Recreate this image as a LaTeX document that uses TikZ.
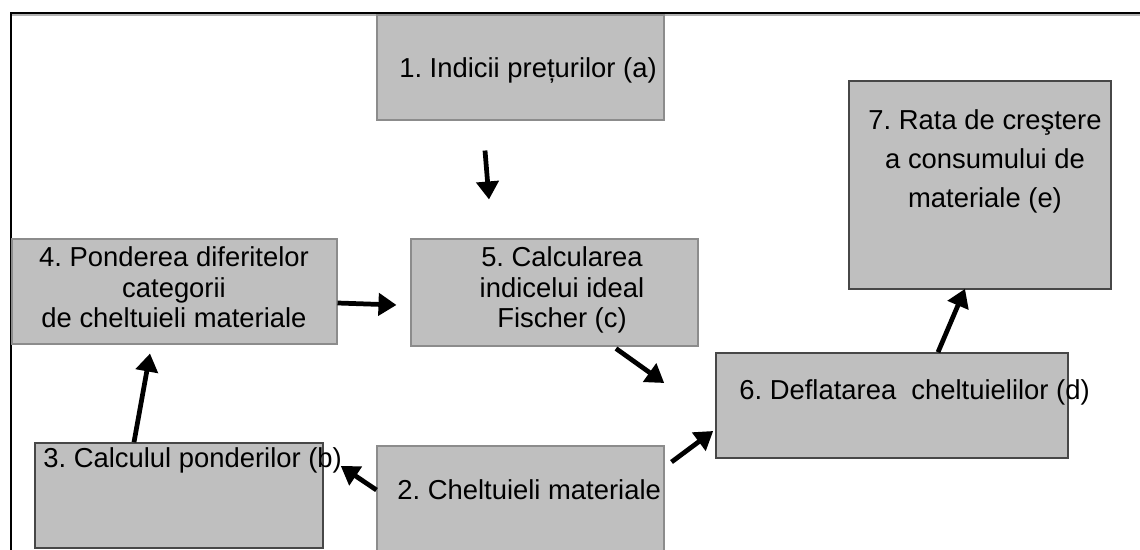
\documentclass[tikz,border=0pt]{standalone}
\usepackage{fontspec}
\setmainfont{Liberation Sans}
\frenchspacing
\usetikzlibrary{arrows.meta}
\tikzset{
	box/.style 2 args={draw=black!45, line width=0.6pt, fill=black!25, minimum width=#1*0.02cm, minimum height=#2*0.02cm, inner sep=0pt},
	darkbox/.style={draw=black!72, line width=0.9pt},
	txt/.style={inner sep=0pt, align=center, font=\fontsize{15.6}{17.6}\selectfont},
	arr/.style={line width=2.7pt, -{Triangle[length=0.36cm,width=0.44cm]}}
}
\begin{document}
\begin{tikzpicture}[x=0.02cm,y=-0.02cm]
		\useasboundingbox (0,0) rectangle (1140,550);
		% frame
			\draw [black!30, line width=0.6pt] (12,15) -- (1140,15);
			\draw [line width=1.1pt] (11,560) -- (11,13) -- (1140,13);
		% boxes
			\node [box={287}{105}] (b1) at (520.5,67.5) {};
			\node [box={287}{106}] (b2) at (520.5,499) {};
			\node [box={288}{105}, darkbox] (b3) at (179,495.5) {};
			\node [box={325}{105}] (b4) at (174.5,291.5) {};
			\node [box={287}{107}] (b5) at (554.5,292.5) {};
			\node [box={352}{105}, darkbox] (b6) at (892,405.5) {};
			\node [box={262}{208}, darkbox] (b7) at (980,185) {};
		% texts (base = last line)
			\node [txt, anchor=base] (t1) at (528,78) {1. Indicii prețurilor (a)};
			\node [txt, anchor=base west] (t2) at (397,500) {2. Cheltuieli materiale};
			\node [txt, anchor=base west] (t3) at (43,468) {3. Calculul ponderilor (b)};
			\node [txt, anchor=base] (t4) at (174,328) {4. Ponderea diferitelor\\categorii\\de cheltuieli materiale};
			\node [txt, anchor=base] (t5) at (562,328) {5. Calcularea\\indicelui ideal\\Fischer (c)};
			\node [txt, anchor=base west] (t6) at (739,400) {6. Deflatarea\ \ cheltuielilor (d)};
			\node [txt, anchor=base, font=\fontsize{15.6}{22.2}\selectfont] (t7) at (985,208) {7. Rata de creştere\\a consumului de\\materiale (e)};
		% arrows
			\draw [arr] ([shift={(-35.5,30)}]b1.south) -- ([shift={(-65.5,-39)}]b5.north);
			\draw [arr] ([shift={(0,11.5)}]b4.east) -- ([shift={(-14,12.5)}]b5.west);
			\draw [arr] ([shift={(-45,0)}]b3.north) -- ([shift={(-24.5,9)}]b4.south);
			\draw [arr] ([shift={(0,-9)}]b2.west) -- ([shift={(17,-29.5)}]b3.east);
			\draw [arr] ([shift={(61.5,2)}]b5.south) -- ([shift={(-51,-22.5)}]b6.west);
			\draw [arr] ([shift={(7,-37)}]b2.east) -- ([shift={(-2,25.5)}]b6.west);
			\draw [arr] ([shift={(46,0)}]b6.north) -- ([shift={(-15,-1)}]b7.south);
	\end{tikzpicture}
\end{document}
